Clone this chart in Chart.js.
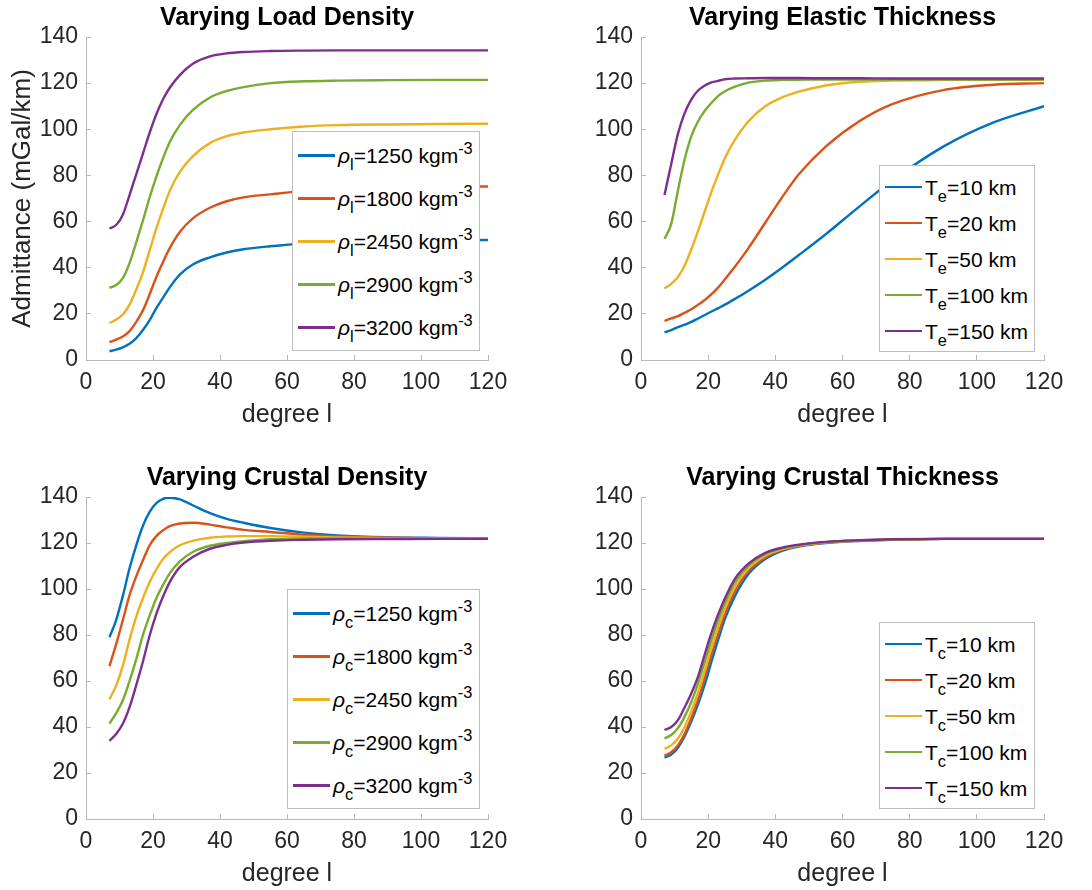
<!DOCTYPE html>
<html>
<head>
<meta charset="utf-8">
<script src="https://cdn.jsdelivr.net/npm/chart.js@4.4.1/dist/chart.umd.min.js"></script>
<style>
  body{margin:0;background:#fff;}
  #fig{position:relative;width:1092px;height:890px;background:#fff;overflow:hidden;font-family:'Liberation Sans',Arial,sans-serif;}
  #fig canvas{position:absolute;}
  .legend{position:absolute;background:#fff;border:1px solid #bdbdbd;box-sizing:border-box;}
  .legend .row{display:flex;align-items:center;}
  .legend .sw{display:inline-block;width:37px;height:2.4px;margin-left:5px;margin-right:3px;flex:none;}
  .legend .tx{font-size:21px;line-height:21px;color:#000;white-space:nowrap;}
  .legend sub,.legend sup{font-size:0.78em;line-height:0;vertical-align:baseline;position:relative;}
  .legend sub{top:0.45em;}
  .legend sup{top:-0.55em;}
</style>
</head>
<body>
<div id="fig">
  <canvas id="c1" width="546" height="445" style="left:0;top:0"></canvas>
  <canvas id="c2" width="546" height="445" style="left:546px;top:0"></canvas>
  <canvas id="c3" width="546" height="445" style="left:0;top:445px"></canvas>
  <canvas id="c4" width="546" height="445" style="left:546px;top:445px"></canvas>
  <div class="legend" id="lg1" style="left:292px;top:131px;width:188px;height:220px;padding-top:2px"></div>
  <div class="legend" id="lg2" style="left:879px;top:165px;width:156px;height:187px;padding-top:3px"></div>
  <div class="legend" id="lg3" style="left:287px;top:589px;width:193px;height:220px;padding-top:2px"></div>
  <div class="legend" id="lg4" style="left:879px;top:622px;width:156px;height:187px;padding-top:3px"></div>
</div>
<script>
// spherical harmonic degree l (shared x values)
const degree = [7,9,11,13,15,17,19,21,23,25,28,32,37,42,47,55,65,75,90,105,120];

// admittance (mGal/km), varying load density
const load1250 = [3.8,4.5,5.5,7,9.5,13,17.3,22.5,27,31.5,37,41.5,44.5,46.6,48,49.3,50.5,51.1,51.6,51.9,52];
const load1800 = [7.7,8.8,10.2,12.5,16.5,21.5,28.5,36,42.5,48.5,55.5,61.5,66,68.8,70.5,71.8,73.3,74.2,74.8,75.1,75.2];
const load2450 = [16,17.5,19.7,24,30.5,38,47.5,57,65.5,73.3,81.5,88.5,94,97,98.6,100,101.2,101.8,102.1,102.3,102.4];
const load2900 = [31.3,32.5,35.5,42,51,60.5,70.5,79.5,87.5,94.5,101.8,108.5,113.8,116.6,118.3,120,120.8,121.1,121.3,121.4,121.4];
const load3200 = [57,58.5,63,71.5,80.5,89.5,98.5,106.5,113,118,123.5,128.5,131.6,132.9,133.5,133.9,134.1,134.2,134.2,134.2,134.2];

// varying elastic thickness
const te10  = [12,13,14.2,15.3,16.5,18,19.5,21,22.5,24,26.5,30,34.8,40,45.5,54.5,66.5,78,92.5,103,110];
const te20  = [17,18,19,20.5,22,24,26,28.5,31.5,35,40.5,48.5,59.5,70.5,80.5,92.5,103.5,111,117,119.3,120];
const te50  = [31,33,36,41,48,56,64.5,73,80.5,87.5,95.5,103.5,110,113.8,116.3,119,120.6,121.1,121.4,121.5,121.5];
const te100 = [52.5,59,73.5,87,97,103.5,108,111.5,114.5,116.5,118.5,120.2,121.1,121.4,121.5,121.6,121.6,121.6,121.6,121.6,121.6];
const te150 = [71.5,85,98,107,113,116.8,119,120.3,121,121.7,122,122.1,122.2,122.2,122.2,122.1,122.1,122,122,122,122];

// varying crustal density
const crust1250 = [79,86.5,97,109,119,127.5,133.5,137.3,139.2,139.7,139,136.3,133,130.5,128.8,126.5,124.5,123.3,122.5,122.2,122];
const crust1800 = [66.5,76,86.5,97.3,105.5,112.5,119,123,125.5,127.3,128.5,128.8,128,126.8,125.7,124.8,123.6,122.8,122.3,122.1,122];
const crust2450 = [52,58,66.7,78,88,96,103,108.5,113,116,119,121,122.3,122.8,123,123,122.7,122.4,122.2,122.1,122];
const crust2900 = [41.5,46,51.6,60,69.5,80,88.5,96,101.8,106.8,112,116.2,118.8,120,120.8,121.7,121.9,122,122,122,122];
const crust3200 = [34,37,41.4,48.6,58.2,68.5,79.8,89.2,96.7,103,109.5,114,117.5,119.2,120.2,121,121.4,121.6,121.7,121.8,121.8];

// varying crustal thickness
const tc10  = [26.7,28,31,36,42.5,50,58.5,68.5,78,87,97,106.5,113,116.6,118.5,120,120.9,121.4,121.8,121.8,121.8];
const tc20  = [27.5,29,32,37,44,52,61.5,71.5,80.5,89,99,107.8,113.7,117,118.7,120.2,121,121.4,121.8,121.8,121.8];
const tc50  = [30.5,32,35,40,47,55,64.5,74.5,83.5,91.5,101,109,114.5,117.4,118.9,120.3,121,121.5,121.8,121.8,121.8];
const tc100 = [35,36.5,39.5,44.5,51,59,68.5,78,86.5,94,103,110.2,115.2,117.7,119.1,120.4,121.1,121.5,121.8,121.8,121.8];
const tc150 = [38.7,40,43,48.6,54.7,62,71.7,81,89,96,104.5,111,115.7,118,119.3,120.5,121.2,121.6,121.8,121.8,121.8];

// legend values
const densities = ['1250','1800','2450','2900','3200'];
const thicknesses = ['10','20','50','100','150'];

const colors = ['#0072BD','#D95319','#EDB120','#77AC30','#7E2F8E'];
const axisGray = '#b8b8b8';
const textGray = '#262626';

Chart.defaults.font.family = "'Liberation Sans', Arial, Helvetica, sans-serif";

function makePanel(id, title, series, o){
  const H = document.getElementById(id).height;
  const xH = H - o.bottom;
  return new Chart(document.getElementById(id), {
    type:'line',
    data:{datasets: series.map((vals,i)=>({
      data: degree.map((l,k)=>({x:l, y:vals[k]})),
      borderColor: colors[i], borderWidth: 2.4, pointRadius: 0,
      cubicInterpolationMode: 'monotone', fill: false, order: series.length - i
    }))},
    options:{
      responsive:false, animation:false, events:[],
      layout:{padding:{left:0, right:o.right, top:0, bottom:0}},
      plugins:{
        legend:{display:false}, tooltip:{enabled:false},
        title:{display:true, text:title, fullSize:false, color:'#000',
          font:{size:25, weight:'bold'}, padding:{top:o.top-34, bottom:4}}
      },
      scales:{
        x:{type:'linear', min:0, max:120,
          ticks:{stepSize:20, color:textGray, font:{size:23}, padding:14, maxRotation:0},
          grid:{drawOnChartArea:false, tickLength:-5, color:axisGray},
          border:{color:axisGray},
          title:{display:true, text:'degree l', color:textGray, font:{size:25}, padding:{top:0, bottom:xH-70}},
          afterFit: s => { s.height = xH; }
        },
        y:{min:0, max:140,
          ticks:{stepSize:20, color:textGray, font:{size:23}, padding:13},
          grid:{drawOnChartArea:false, tickLength:-5, color:axisGray},
          border:{color:axisGray},
          title: o.yTitle ? {display:true, text:o.yTitle, color:textGray, font:{size:26}, padding:{top:7, bottom:0}} : {display:false},
          afterFit: s => { s.width = o.left; }
        }
      }
    }
  });
}

function buildLegend(id, labels, pitch){
  const box = document.getElementById(id);
  labels.forEach((html,i)=>{
    const row = document.createElement('div');
    row.className = 'row';
    row.style.height = pitch + 'px';
    row.innerHTML = `<span class="sw" style="background:${colors[i]}"></span><span class="tx">${html}</span>`;
    box.appendChild(row);
  });
}

makePanel('c1','Varying Load Density',[load1250,load1800,load2450,load2900,load3200],
  {left:86, right:58, top:37, bottom:360, yTitle:'Admittance (mGal/km)'});
makePanel('c2','Varying Elastic Thickness',[te10,te20,te50,te100,te150],
  {left:95, right:48, top:37, bottom:360});
makePanel('c3','Varying Crustal Density',[crust1250,crust1800,crust2450,crust2900,crust3200],
  {left:86, right:58, top:52, bottom:374});
makePanel('c4','Varying Crustal Thickness',[tc10,tc20,tc50,tc100,tc150],
  {left:95, right:48, top:52, bottom:374});

buildLegend('lg1', densities.map(d=>`<i>ρ</i><sub>l</sub>=${d} kgm<sup>-3</sup>`), 43);
buildLegend('lg2', thicknesses.map(t=>`T<sub>e</sub>=${t} km`), 36);
buildLegend('lg3', densities.map(d=>`<i>ρ</i><sub>c</sub>=${d} kgm<sup>-3</sup>`), 43);
buildLegend('lg4', thicknesses.map(t=>`T<sub>c</sub>=${t} km`), 36);
</script>
</body>
</html>
